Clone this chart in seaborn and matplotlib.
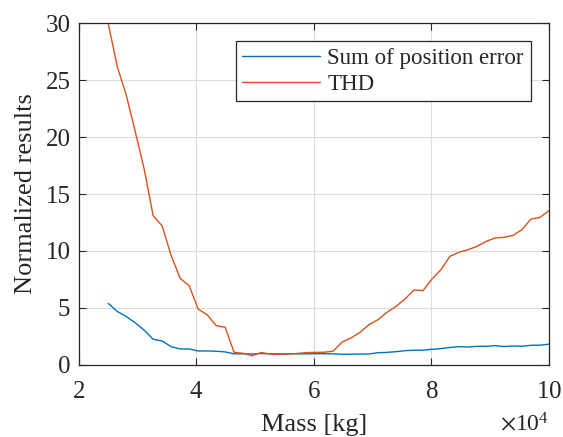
import numpy as np
import pandas as pd
import matplotlib
matplotlib.use("Agg")
import matplotlib.pyplot as plt
from matplotlib.ticker import ScalarFormatter
import seaborn as sns

# Mass in units of 1e4 kg
mass_e4 = [2.500, 2.653, 2.806, 2.959, 3.112, 3.265, 3.418, 3.571, 3.724, 3.878,
           4.031, 4.184, 4.337, 4.490, 4.643, 4.796, 4.949, 5.102, 5.255, 5.408,
           5.561, 5.714, 5.867, 6.020, 6.173, 6.327, 6.480, 6.633, 6.786, 6.939,
           7.092, 7.245, 7.398, 7.551, 7.704, 7.857, 8.010, 8.163, 8.316, 8.469,
           8.622, 8.776, 8.929, 9.082, 9.235, 9.388, 9.541, 9.694, 9.847, 10.000]

pos_error = [5.40, 4.70, 4.25, 3.70, 3.05, 2.25, 2.10, 1.60, 1.40, 1.40,
             1.22, 1.22, 1.20, 1.14, 0.97, 0.97, 0.96, 1.00, 0.98, 0.97,
             0.97, 0.97, 0.97, 0.98, 0.98, 0.97, 0.93, 0.94, 0.95, 0.96,
             1.07, 1.10, 1.16, 1.25, 1.29, 1.29, 1.37, 1.43, 1.53, 1.60,
             1.57, 1.63, 1.63, 1.69, 1.61, 1.66, 1.64, 1.72, 1.73, 1.82]

thd = [30.0, 26.2, 23.7, 20.5, 17.2, 13.1, 12.2, 9.6, 7.6, 6.95,
       4.90, 4.40, 3.45, 3.30, 1.10, 1.02, 0.80, 1.08, 0.95, 0.93,
       0.96, 1.00, 1.08, 1.10, 1.11, 1.20, 2.00, 2.37, 2.86, 3.54,
       3.97, 4.62, 5.14, 5.79, 6.58, 6.52, 7.54, 8.36, 9.53, 9.88,
       10.11, 10.41, 10.84, 11.14, 11.20, 11.37, 11.87, 12.80, 12.95, 13.54]

series_names = ["Sum of position error", "THD"]
colors = ["#0072BD", "#D95319"]

mass = [m * 1e4 for m in mass_e4]
df = pd.DataFrame({
    "Mass": mass + mass,
    "Value": pos_error + thd,
    "Series": [series_names[0]] * len(mass) + [series_names[1]] * len(mass),
})

sns.set_theme(style="whitegrid")
plt.rcParams["font.family"] = ["Liberation Serif", "DejaVu Serif"]
plt.rcParams["mathtext.fontset"] = "stix"

fig = plt.figure(figsize=(5.63, 4.37), dpi=100)
ax = fig.add_axes([0.140, 0.165, 0.835, 0.782])

sns.lineplot(data=df, x="Mass", y="Value", hue="Series", palette=colors,
             linewidth=1.0, ax=ax)

ax.set_xlim(2e4, 1e5)
ax.set_ylim(0, 30)
ax.set_xticks([2e4, 4e4, 6e4, 8e4, 1e5])
ax.set_yticks([0, 5, 10, 15, 20, 25, 30])
fmt = ScalarFormatter(useMathText=True)
fmt.set_powerlimits((4, 4))
ax.xaxis.set_major_formatter(fmt)

ax.set_xlabel("Mass [kg]", fontsize=19, color="#262626", labelpad=8)
ax.set_ylabel("Normalized results", fontsize=19, color="#262626", labelpad=6)
ax.tick_params(axis="both", which="major", labelsize=18, colors="#262626",
               direction="in", length=5, width=0.8, top=True, right=True,
               bottom=True, left=True, pad=6)
ax.tick_params(axis="x", pad=11.5)
ax.xaxis.OFFSETTEXTPAD = 7
ax.xaxis.get_offset_text().set_fontsize(17)
ax.xaxis.get_offset_text().set_color("#262626")

ax.grid(True, color="#dcdcdc", linewidth=0.8)
for s in ax.spines.values():
    s.set_visible(True)
    s.set_color("#262626")
    s.set_linewidth(0.9)
ax.set_facecolor("white")

leg = ax.legend(loc="upper right", fontsize=16.5, frameon=True, fancybox=False,
                edgecolor="#262626", framealpha=1, borderpad=0.3,
                handlelength=3.4, labelspacing=0.18, borderaxespad=0.8,
                handletextpad=0.3)
leg.get_frame().set_linewidth(0.9)

fig.savefig("out.png", dpi=100, facecolor="white")
